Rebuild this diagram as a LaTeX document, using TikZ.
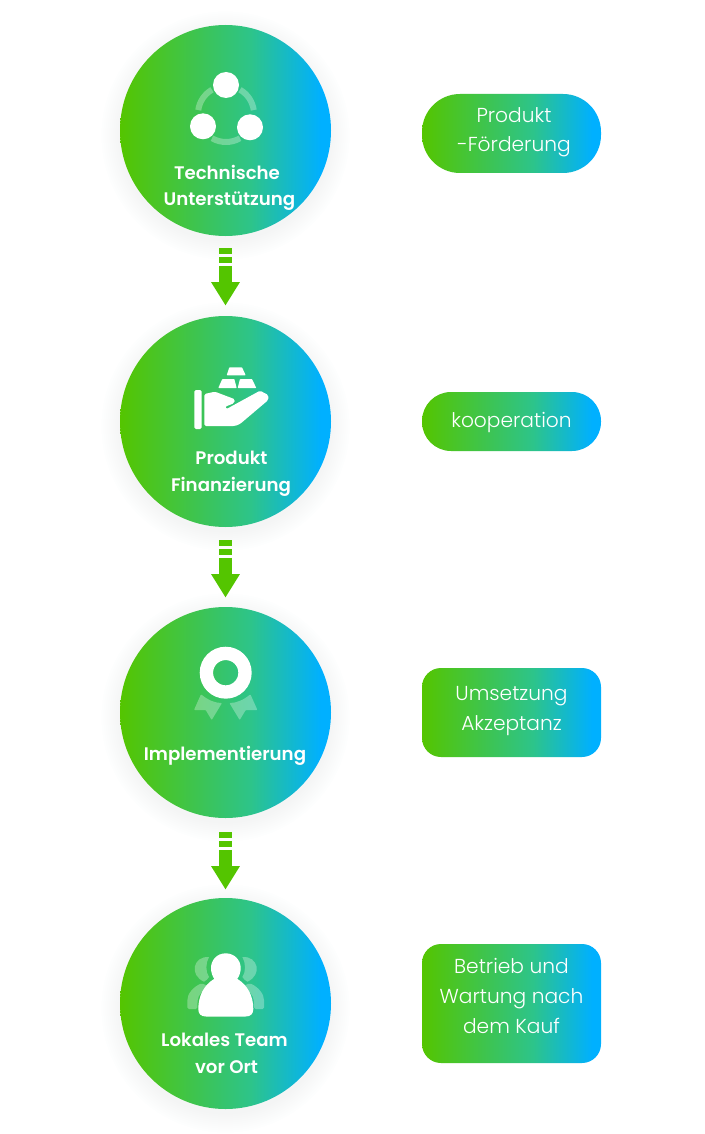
\documentclass[tikz,border=0pt]{standalone}
\usepackage{fontspec}
\usetikzlibrary{arrows.meta}
\newfontfamily\stagefont{Poppins SemiBold}
\newfontfamily\notefont{Poppins Light}
\definecolor{flowgreen}{HTML}{54C500}
\definecolor{flowteal}{HTML}{2DC48A}
\definecolor{flowblue}{HTML}{00B0FF}
\definecolor{glow}{HTML}{7F9FE0}
% The bounding box of a shaded path fills the range 25bp..75bp of the shading
\pgfdeclarehorizontalshading{brandgrad}{100bp}{
  color(0bp)=(flowgreen); color(25bp)=(flowgreen); color(56bp)=(flowteal);
  color(72.5bp)=(flowblue); color(75bp)=(flowblue); color(100bp)=(flowblue)}
\tikzset{
  x=1pt, y=-1pt,
  stage/.style={circle, minimum size=211pt, inner sep=0pt, shading=brandgrad, shading angle=0},
  note/.style={rectangle, minimum width=179pt, inner sep=0pt, shading=brandgrad, shading angle=0},
  stagetext/.style={text=white, font=\stagefont\fontsize{18.2}{27}\selectfont, anchor=base, inner sep=0pt},
  notetext/.style={text=white, font=\notefont\fontsize{20.2}{30}\selectfont, anchor=base, inner sep=0pt},
  icon/.style={fill=white, draw=none},
  iconfaint/.style={fill=white, fill opacity=.3, draw=none},
  flow/.style={draw=flowgreen, line width=13.4pt,
    dash pattern=on 6pt off 2.7pt on 5.6pt off 3.4pt on 200pt,
    -{Triangle[width=27pt,length=23.4pt]}},
}
\begin{document}
\begin{tikzpicture}
\useasboundingbox (0,0) rectangle (704,1134);
\fill[white] (0,0) rectangle (704,1134);

% soft halo under the four stages
\foreach \cy in {130.5,421.5,712.5,1003.5}
  \foreach \r in {106,108,...,124}
    \fill[glow, opacity=.006] (225.5,\cy+5) circle[radius=\r pt];

% stages
\node[stage] (s1) at (225.5,130.5) {};
\node[stage] (s2) at (225.5,421.5) {};
\node[stage] (s3) at (225.5,712.5) {};
\node[stage] (s4) at (225.5,1003.5) {};

% connectors between stages
\draw[flow, shorten <=12pt, shorten >=10.2pt] (s1.south) -- (s2.north);
\draw[flow, shorten <=13pt, shorten >=9.2pt] (s2.south) -- (s3.north);
\draw[flow, shorten <=14pt, shorten >=8.2pt] (s3.south) -- (s4.north);

% stage captions
\node[stagetext] (t1a) at (227,179) {Technische};
\node[stagetext] (t1b) at (229.5,205.5) {Unterstützung};
\node[stagetext] (t2a) at (231.5,464.5) {Produkt};
\node[stagetext] (t2b) at (231,491.5) {Finanzierung};
\node[stagetext] (t3a) at (225,760.5) {Implementierung};
\node[stagetext] (t4a) at (224.5,1046.5) {Lokales Team};
\node[stagetext] (t4b) at (226.5,1073.5) {vor Ort};

% three linked dots
\draw[white, opacity=.3, line width=6pt] (226,114) ++(8:28pt) arc[start angle=8,end angle=60,radius=28pt];
\draw[white, opacity=.3, line width=6pt] (226,114) ++(120:28pt) arc[start angle=120,end angle=172,radius=28pt];
\draw[white, opacity=.3, line width=6pt] (226,114) ++(240:28pt) arc[start angle=240,end angle=300,radius=28pt];
\fill[icon] (226,85) circle[radius=13pt];
\fill[icon] (203,126.3) circle[radius=13pt];
\fill[icon] (250,127.3) circle[radius=13pt];

% hand holding ingots
\fill[icon, rounded corners=.6pt] (229.3,367.3) -- (242,367.3) -- (245.7,375.3) -- (226.7,375.3) -- cycle;
\fill[icon, rounded corners=.6pt] (222.3,379) -- (234.3,379) -- (236.7,388) -- (218.3,388) -- cycle;
\fill[icon, rounded corners=.6pt] (240,379) -- (252,379) -- (256.3,388) -- (237.7,388) -- cycle;
\fill[icon, rounded corners=1.5pt] (194.3,390) rectangle (201.7,429);
\fill[icon, rounded corners=1.6pt] (204.3,394) -- (215,391.7) -- (235,399.3) -- (234,403.3)
  -- (225,406.7) -- (226,409.3) -- (260,390.7) -- (268.3,395) -- (268.3,400) -- (240,424)
  -- (235,426) -- (204.3,426) -- cycle;

% rosette
\fill[iconfaint, rounded corners=.8pt] (201,694.3) .. controls (208,700) and (215,703) .. (222,703)
  -- (211.7,720) -- (205.7,710) -- (194,710) -- cycle;
\fill[iconfaint, rounded corners=.8pt] (250.4,694.3) .. controls (243.4,700) and (236.4,703) .. (229.4,703)
  -- (239.7,720) -- (245.7,710) -- (257.4,710) -- cycle;
\draw[white, line width=13.3pt] (225.7,672.7) circle[radius=19.3pt];

% team of three
\fill[iconfaint] (209,957) .. controls (193,956) and (189,975) .. (204,981.7)
  .. controls (206,980.5) and (208,979) .. (209,977) .. controls (205.5,972) and (205.5,963) .. (209,957) -- cycle;
\fill[iconfaint] (242.4,957) .. controls (258.4,956) and (262.4,975) .. (247.4,981.7)
  .. controls (245.4,980.5) and (243.4,979) .. (242.4,977) .. controls (245.9,972) and (245.9,963) .. (242.4,957) -- cycle;
\fill[iconfaint, rounded corners=1.5pt] (201.7,983.3) .. controls (193,987) and (187.3,994) .. (187.3,1002)
  -- (187.3,1009) -- (197.3,1009) -- (197.5,1002) .. controls (198,995) and (203,990) .. (210,986.7) -- cycle;
\fill[iconfaint, rounded corners=1.5pt] (249.7,983.3) .. controls (258.4,987) and (264.1,994) .. (264.1,1002)
  -- (264.1,1009) -- (254.1,1009) -- (253.9,1002) .. controls (253.4,995) and (248.4,990) .. (241.4,986.7) -- cycle;
\fill[icon] (225.7,953.3) .. controls (217,953.3) and (211,960) .. (211,968)
  .. controls (211,976) and (216,985) .. (225.7,985)
  .. controls (235.4,985) and (240.7,976) .. (240.7,968)
  .. controls (240.7,960) and (234.4,953.3) .. (225.7,953.3) -- cycle;
\fill[icon] (214,979) .. controls (204,985) and (198.3,996) .. (198.3,1009)
  .. controls (198.3,1014) and (201,1016.5) .. (206,1016.5)
  -- (245.5,1016.5) .. controls (250.5,1016.5) and (253.3,1014) .. (253.3,1009)
  .. controls (253.3,996) and (247.5,985) .. (237.5,979) -- cycle;

% side notes
\node[note, minimum height=79pt, rounded corners=38pt] (n1) at (511.5,133.5) {};
\node[note, minimum height=59pt, rounded corners=29pt] (n2) at (511.5,421.5) {};
\node[note, minimum height=89pt, rounded corners=19pt] (n3) at (511.5,712.5) {};
\node[note, minimum height=119pt, rounded corners=19pt] (n4) at (511.5,1003.5) {};

\node[notetext] (n1a) at (514,122.5) {Produkt};
\node[notetext] (n1b) at (514,152) {-Förderung};
\node[notetext] (n2a) at (511.5,427) {kooperation};
\node[notetext] (n3a) at (511.5,700) {Umsetzung};
\node[notetext] (n3b) at (511.5,730) {Akzeptanz};
\node[notetext] (n4a) at (511.5,973) {Betrieb und};
\node[notetext] (n4b) at (511.5,1003) {Wartung nach};
\node[notetext] (n4c) at (511.5,1033) {dem Kauf};
\end{tikzpicture}
\end{document}
